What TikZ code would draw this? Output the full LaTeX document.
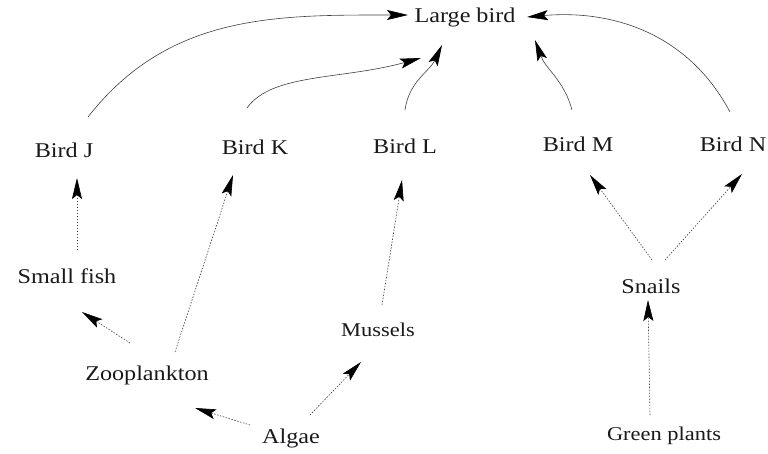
\documentclass[tikz,border=0pt]{standalone}
\usepackage{fontspec}
\newfontfamily\labfont[FakeStretch=1.15]{Liberation Serif}
\usetikzlibrary{arrows.meta,calc}
\tikzset{
  lab/.style={font=\labfont\fontsize{21}{24}\selectfont, inner sep=1pt, text=black!90},
  smalllab/.style={lab, font=\labfont\fontsize{19.5}{23}\selectfont},
  arr/.style={draw=black!75, line width=0.6pt, -{Stealth[length=21pt,width=10pt,inset=4pt,color=black]}},
  darr/.style={arr, dash pattern=on 1.5pt off 1.5pt},
}
\begin{document}
\begin{tikzpicture}[x=1pt,y=1pt]
\useasboundingbox (0,0) rectangle (768,-453);
\fill[white] (0,0) rectangle (768,-453);
% nodes
\node[lab] (LB) at (465,-17) {Large bird};
\node[lab] (J) at (64,-150) {Bird J};
\node[lab] (K) at (255,-147) {Bird K};
\node[lab] (L) at (405,-146) {Bird L};
\node[lab] (M) at (578,-144) {Bird M};
\node[lab] (N) at (733,-144) {Bird N};
\node[lab] (SF) at (67,-276) {Small fish};
\node[lab] (Zoo) at (147,-375) {Zooplankton};
\node[lab] (Al) at (291,-438) {Algae};
\node[smalllab] (Mu) at (378,-330) {Mussels};
\node[lab] (Sn) at (651,-286) {Snails};
\node[smalllab] (GP) at (664,-436) {Green plants};
% upper connectors
\draw[arr] ($(J)+(24,33)$) to[out=52,in=180] ($(LB)+(-57,2)$);
\draw[arr] ($(K)+(-8,39)$) .. controls +(25,35) and +(-80,-22) .. ($(LB)+(-44,-41)$);
\draw[arr] ($(L)+(0,36)$) to[out=82,in=245] ($(LB)+(-23,-28)$);
\draw[arr] ($(M)+(-6,34)$) to[out=105,in=290] ($(LB)+(70,-23)$);
\draw[arr] ($(N)+(-3,32)$) to[out=118,in=5] ($(LB)+(62,0)$);
% lower connectors
\draw[darr] ($(SF)+(10,26)$) -- ($(J)+(13,-28)$);
\draw[darr] ($(Zoo)+(-17,32)$) -- ($(SF)+(15,-36)$);
\draw[darr] ($(Zoo)+(28,23)$) -- ($(K)+(-22,-28)$);
\draw[darr] ($(Mu)+(4,25)$) -- ($(L)+(-3,-34)$);
\draw[darr] ($(Al)+(-41,13)$) -- ($(Zoo)+(48,-33)$);
\draw[darr] ($(Al)+(19,23)$) -- ($(Mu)+(-17,-32)$);
\draw[darr] ($(Sn)+(1,26)$) -- ($(M)+(12,-31)$);
\draw[darr] ($(Sn)+(14,26)$) -- ($(N)+(9,-30)$);
\draw[darr] ($(GP)+(-14,21)$) -- ($(Sn)+(-3,-14)$);
\end{tikzpicture}
\end{document}
